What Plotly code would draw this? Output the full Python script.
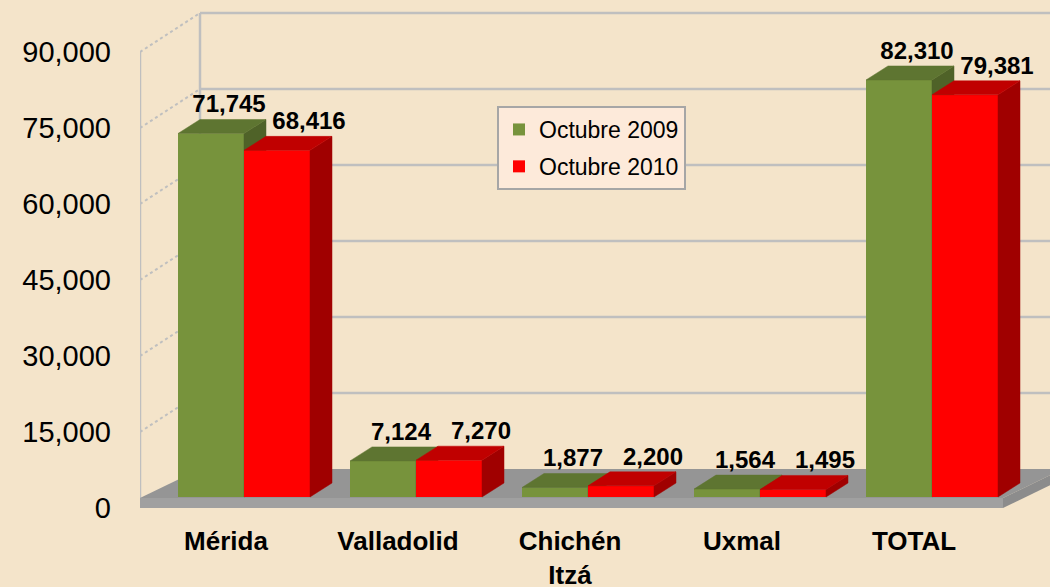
import plotly.graph_objects as go

# ---------------- data ----------------
categories = ["Mérida", "Valladolid", "Chichén<br>Itzá", "Uxmal", "TOTAL"]
oct_2009 = [71745, 7124, 1877, 1564, 82310]
oct_2010 = [68416, 7270, 2200, 1495, 79381]
series_names = ["Octubre 2009", "Octubre 2010"]
y_ticks = [0, 15000, 30000, 45000, 60000, 75000, 90000]

# ---------------- geometry (pixel based pseudo-3D) ----------------
W, H = 1050, 587
PX_PER_CAT = 172.0
X0_PX = 226.0          # pixel of category 0 (front plane)
Y0_PX = 508.0          # pixel of value 0 (front plane)
Y90_PX = 52.0          # pixel of value 90,000 (front plane)
L_PX, R_PX, T_PX = 140.0, 1050.0, 8.0
UPP = 90000.0 / (Y0_PX - Y90_PX)   # value units per pixel


def ux(px):
    return px / PX_PER_CAT


def uy(px):
    return px * UPP


x_min = (L_PX - X0_PX) / PX_PER_CAT
x_max = (R_PX - X0_PX) / PX_PER_CAT
y_max = (Y0_PX - T_PX) * UPP
x_front_right = len(categories) - 0.5 + ux(3)

# depth vectors
dxb, dyb = ux(60), uy(39)      # back wall
dxf, dyf = ux(18), uy(11)      # bar front plane
dxd, dyd = ux(22), uy(14)      # bar depth
floor_th = uy(10)
bar_w = ux(66)

FONT = "Liberation Sans, Arial, sans-serif"
GRID = "#BFBFBF"

colors = {
    "Octubre 2009": ("#77933C", "#5E7531", "#4F6228"),
    "Octubre 2010": ("#FF0000", "#C00000", "#A00000"),
}

fig = go.Figure()


def add_series(values, name, side, xa, ya, label_dx):
    front, top, sidec = colors[name]
    centers = [i + dxf + side * bar_w / 2 for i in range(len(values))]
    fig.add_trace(go.Bar(
        x=centers, y=values, base=[dyf] * len(values), width=bar_w,
        marker=dict(color=front, line=dict(width=0)), name=name,
        legendgroup=name, xaxis=xa, yaxis=ya, hoverinfo="skip"))
    tx, ty, sx, sy = [], [], [], []
    for c, v in zip(centers, values):
        xl, xr = c - bar_w / 2, c + bar_w / 2
        yt = dyf + v
        tx += [xl, xr, xr + dxd, xl + dxd, xl, None]
        ty += [yt, yt, yt + dyd, yt + dyd, yt, None]
        sx += [xr, xr, xr + dxd, xr + dxd, xr, None]
        sy += [dyf, yt, yt + dyd, dyf + dyd, dyf, None]
    fig.add_trace(go.Scatter(x=sx, y=sy, mode="lines", fill="toself",
                             fillcolor=sidec, line=dict(color=sidec, width=0.5),
                             showlegend=False, legendgroup=name, hoverinfo="skip",
                             xaxis=xa, yaxis=ya))
    fig.add_trace(go.Scatter(x=tx, y=ty, mode="lines", fill="toself",
                             fillcolor=top, line=dict(color=top, width=0.5),
                             showlegend=False, legendgroup=name, hoverinfo="skip",
                             xaxis=xa, yaxis=ya))
    fig.add_trace(go.Scatter(
        x=[c + dxd + ux(label_dx) for c in centers],
        y=[dyf + v + dyd + uy(1) for v in values],
        mode="text", text=[f"{v:,}" for v in values], textposition="top center",
        textfont=dict(family=FONT, size=24, color="black", weight="bold"),
        showlegend=False, hoverinfo="skip", cliponaxis=False,
        xaxis=xa, yaxis=ya))


add_series(oct_2009, series_names[0], -1, "x", "y", -4)
add_series(oct_2010, series_names[1], +1, "x2", "y2", 10)

# ---------------- walls, grid and floor (derived from ticks) ----------------
shapes = []
for v in y_ticks:
    if v > 0:
        shapes.append(dict(type="line", xref="x", yref="y", layer="below",
                           x0=x_min + dxb, y0=v + dyb, x1=x_max + 1, y1=v + dyb,
                           line=dict(color=GRID, width=2.5)))
    shapes.append(dict(type="line", xref="x", yref="y", layer="below",
                       x0=x_min, y0=v, x1=x_min + dxb, y1=v + dyb,
                       line=dict(color=GRID, width=2, dash="dot")))
shapes.append(dict(type="line", xref="x", yref="y", layer="below",
                   x0=x_min, y0=0, x1=x_min, y1=y_ticks[-1],
                   line=dict(color=GRID, width=2.5)))
shapes.append(dict(type="line", xref="x", yref="y", layer="below",
                   x0=x_min + dxb, y0=dyb, x1=x_min + dxb, y1=y_ticks[-1] + dyb,
                   line=dict(color=GRID, width=2.5)))


def poly(pts):
    return "M " + " L ".join(f"{a},{b}" for a, b in pts) + " Z"


floor_top = [(x_min, floor_th), (x_front_right, floor_th),
             (x_front_right + dxb, dyb), (x_min + dxb, dyb)]
floor_front = [(x_min, 0), (x_front_right, 0), (x_front_right, floor_th), (x_min, floor_th)]
floor_side = [(x_front_right, 0), (x_front_right, floor_th),
              (x_front_right + dxb, dyb), (x_front_right + dxb, dyb - floor_th)]
shapes.append(dict(type="path", xref="x", yref="y", layer="below", path=poly(floor_top),
                   fillcolor="#959595", line=dict(width=0)))
shapes.append(dict(type="path", xref="x", yref="y", layer="below", path=poly(floor_front),
                   fillcolor="#A0A0A0", line=dict(width=0)))
shapes.append(dict(type="path", xref="x", yref="y", layer="below", path=poly(floor_side),
                   fillcolor="#8C8C8C", line=dict(width=0)))

plot_w = R_PX - L_PX
plot_h = Y0_PX - T_PX

fig.update_layout(
    width=W, height=H,
    margin=dict(l=L_PX, r=W - R_PX, t=T_PX, b=H - Y0_PX, autoexpand=False),
    paper_bgcolor="#F4E4CA", plot_bgcolor="rgba(0,0,0,0)",
    barmode="overlay",
    shapes=shapes,
    showlegend=True,
    legend=dict(x=(497 - L_PX) / plot_w, y=(Y0_PX - 106) / plot_h,
                xanchor="left", yanchor="top",
                bgcolor="#FDEADA", bordercolor="#A6A6A6", borderwidth=2,
                font=dict(family=FONT, size=23, color="black"),
                traceorder="grouped", tracegroupgap=4),
    xaxis=dict(range=[x_min, x_max], tickvals=list(range(len(categories))),
               ticktext=categories, showgrid=False, zeroline=False, showline=False,
               ticks="", ticklabelstandoff=15, automargin=False,
               tickfont=dict(family=FONT, size=26, color="black", weight="bold"),
               fixedrange=True),
    yaxis=dict(range=[0, y_max], tickvals=y_ticks, ticktext=[f"{v:,}" for v in y_ticks],
               showgrid=False, zeroline=False, showline=False, ticks="",
               ticklabelstandoff=28, automargin=False,
               tickfont=dict(family=FONT, size=29, color="black"), fixedrange=True),
    xaxis2=dict(range=[x_min, x_max], overlaying="x", visible=False, fixedrange=True),
    yaxis2=dict(range=[0, y_max], overlaying="y", visible=False, fixedrange=True),
)

fig.write_html("out.html", config={"displayModeBar": False},
               post_script="document.body.style.margin='0';"
                           "document.body.style.overflow='hidden';")
